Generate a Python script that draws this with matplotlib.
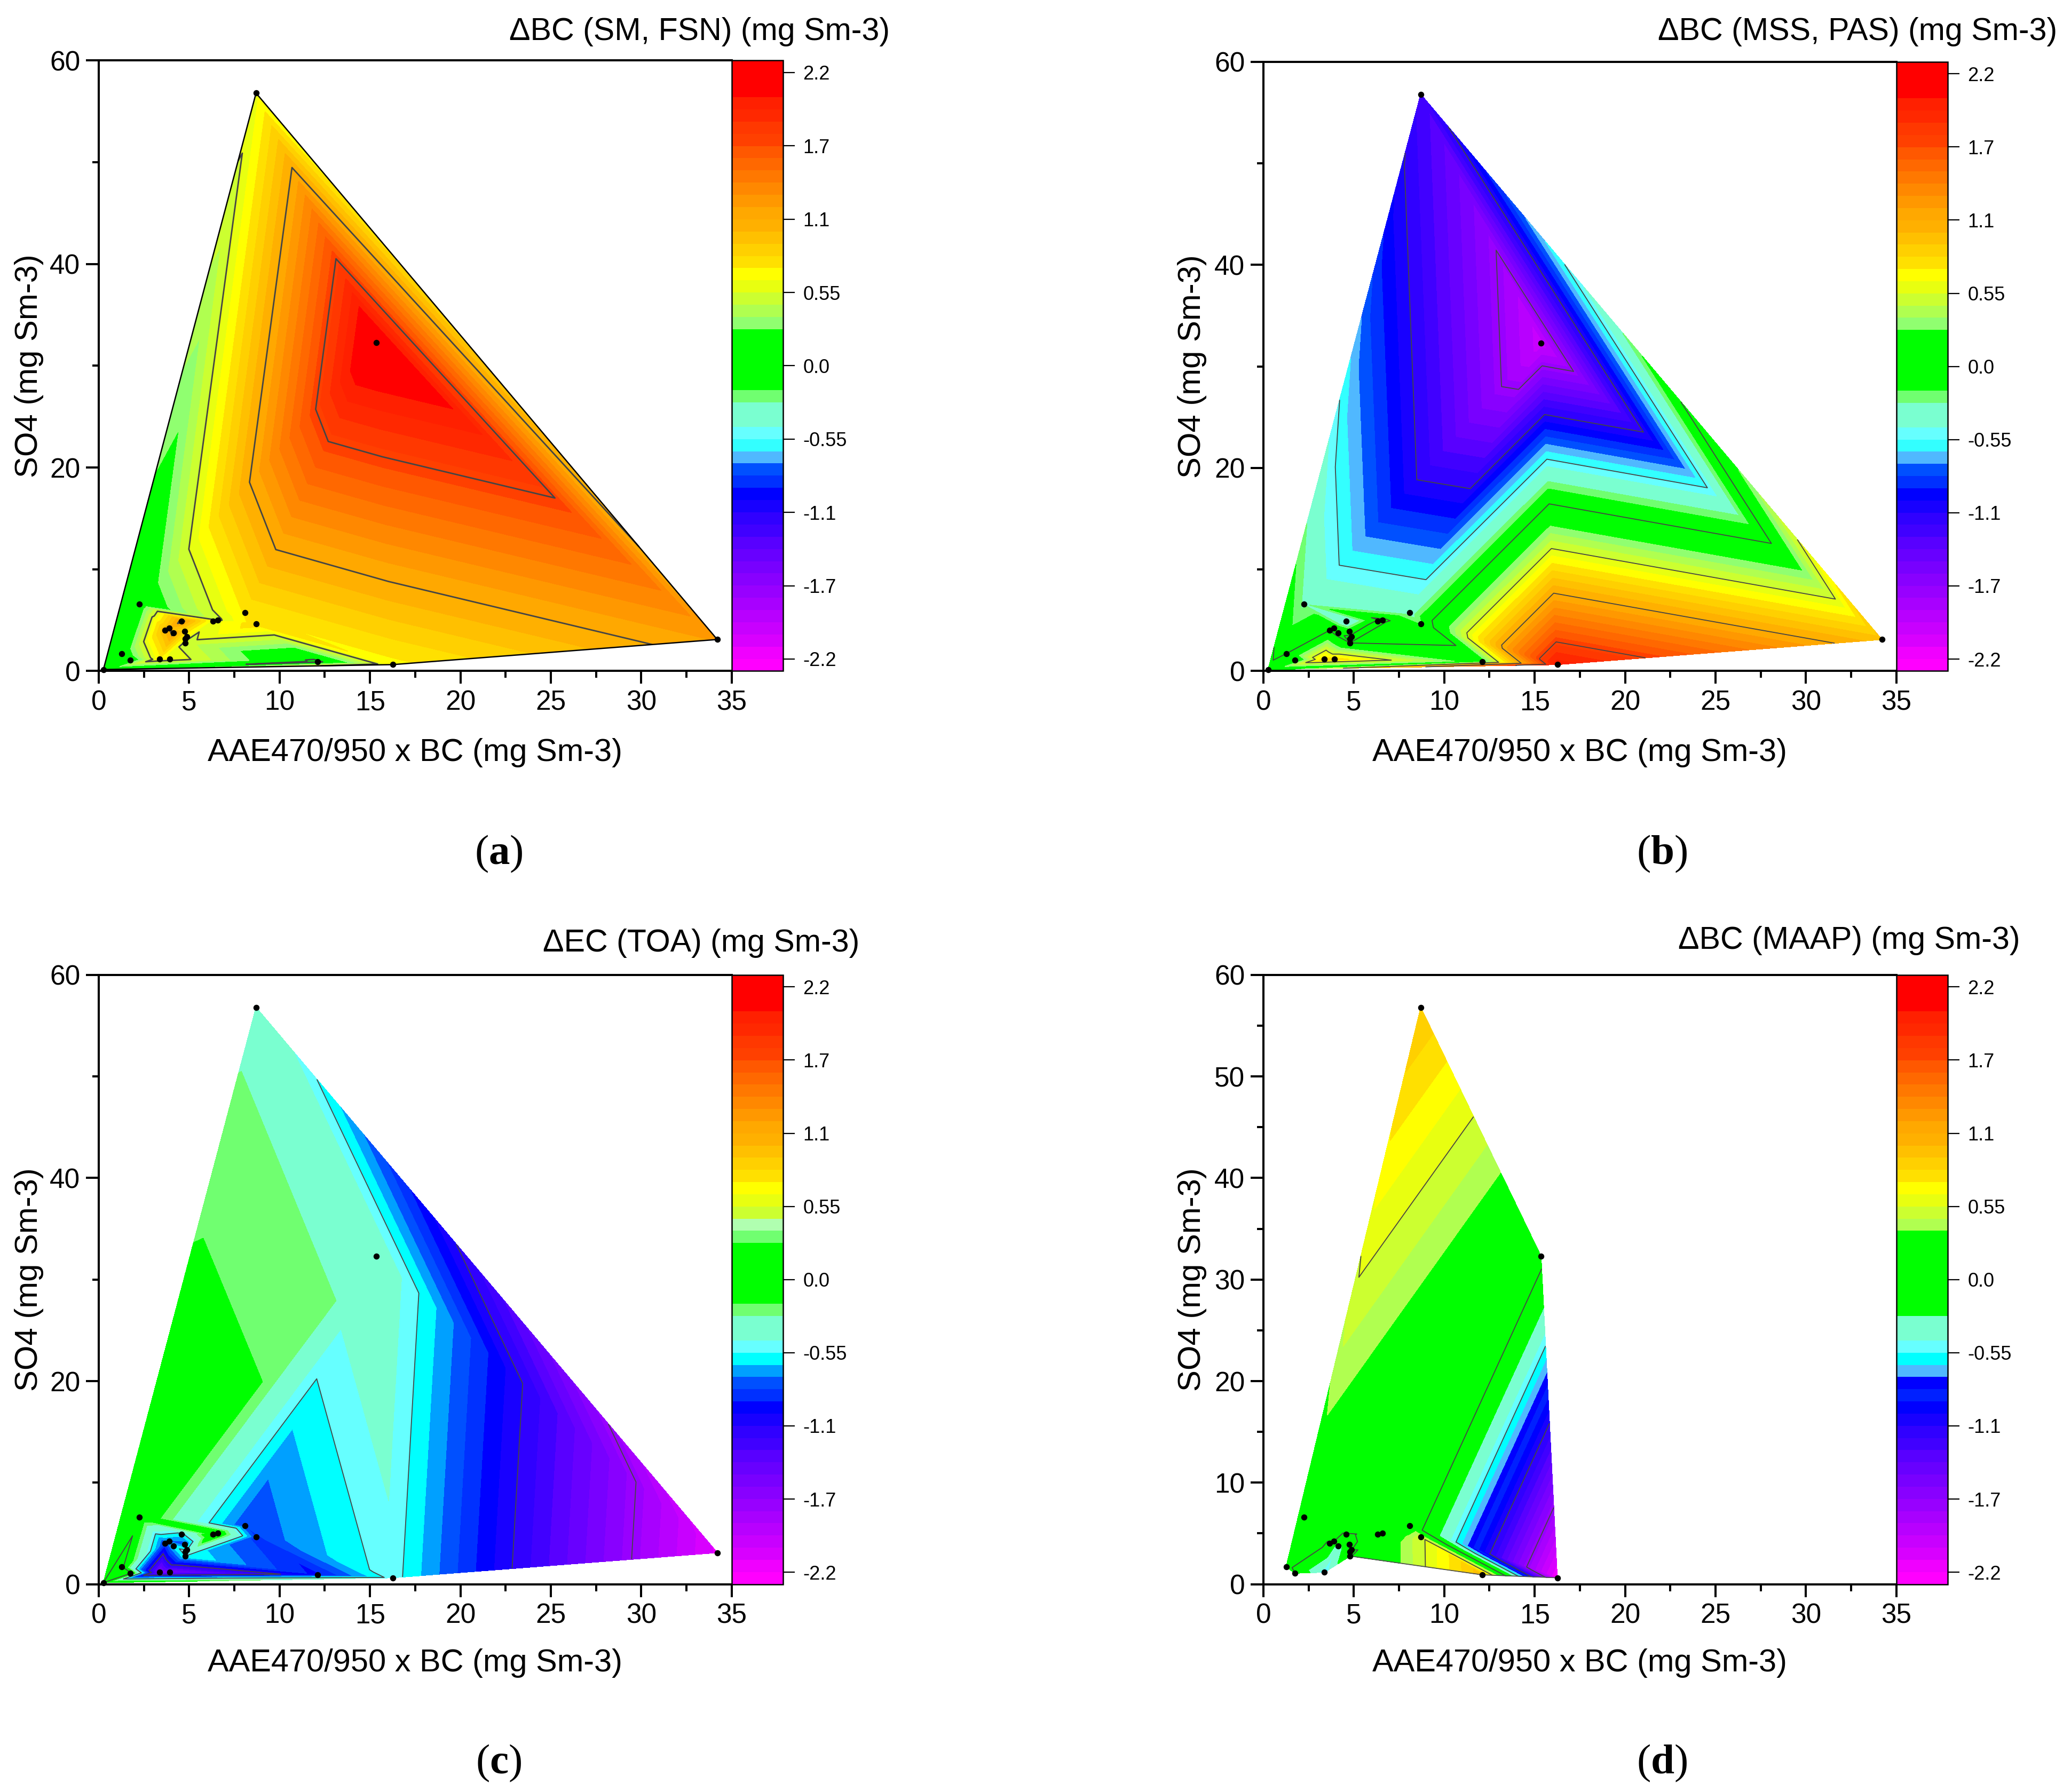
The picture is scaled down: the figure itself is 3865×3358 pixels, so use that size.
import numpy as np
import matplotlib
matplotlib.use("Agg")
import matplotlib.pyplot as plt
from matplotlib.colors import ListedColormap, BoundaryNorm
from matplotlib.cm import ScalarMappable
from matplotlib.tri import Triangulation

plt.rcParams['font.family'] = ['Liberation Sans', 'DejaVu Sans']
plt.rcParams['mathtext.fontset'] = 'custom'
plt.rcParams['mathtext.rm'] = 'Liberation Serif'
plt.rcParams['mathtext.bf'] = 'Liberation Serif:bold'
plt.rcParams['contour.negative_linestyle'] = 'solid'

# Measured points (shared by all panels)
aae_bc = [0.26, 1.26, 1.75, 2.24, 3.38, 3.93, 3.66, 3.91, 4.13, 4.59, 4.76, 4.88,
          4.79, 4.79, 6.32, 6.59, 8.10, 8.71, 12.1, 16.25, 34.2, 15.35, 8.70]
so4 = [0.15, 1.71, 1.08, 6.60, 1.17, 1.17, 4.01, 4.24, 3.77, 4.90, 3.91, 3.37,
       3.19, 2.77, 4.90, 5.03, 5.74, 4.64, 0.92, 0.63, 3.10, 32.3, 56.8]

delta_a = [0.10, 0.08, 0.08, 0.10, 0.70, 0.65, 1.00, 1.00, 1.15, 1.15, 0.80, 0.65,
           0.60, 0.50, 0.60, 0.52, 0.75, 0.80, -0.05, 0.70, 1.20, 2.25, 0.61]
delta_b = [0.05, 0.00, 0.00, -0.30, 0.80, 0.80, 0.00, -0.05, -0.10, -0.50, -0.10, 0.05,
           0.10, 0.00, 0.05, 0.05, -0.35, -0.20, 0.15, 1.98, 0.95, -1.98, -1.23]
delta_c = [0.00, 0.05, 0.05, -0.03, -1.55, -1.55, -0.85, -0.75, -0.60, -0.60, -0.80, -0.55,
           -0.50, -0.55, 0.05, 0.00, -0.82, -0.85, -0.95, -0.50, -2.13, -0.325, -0.31]
delta_d = [np.nan, 0.10, 0.00, 0.23, -0.55, np.nan, -0.02, 0.00, -0.40, -0.02, -0.02, 0.00,
           -0.02, -0.02, 0.05, 0.05, 0.20, 0.52, 0.98, -2.20, np.nan, 0.09, 0.91]

titles = ["\u0394BC (SM, FSN) (mg Sm-3)", "\u0394BC (MSS, PAS) (mg Sm-3)",
          "\u0394EC (TOA) (mg Sm-3)", "\u0394BC (MAAP) (mg Sm-3)"]
letters = ["a", "b", "c", "d"]
xlabel = "AAE470/950 x BC (mg Sm-3)"
ylabel = "SO4 (mg Sm-3)"
cbar_ticks = [-2.2, -1.65, -1.1, -0.55, 0.0, 0.55, 1.1, 1.65, 2.2]
cbar_labels = ["-2.2", "-1.7", "-1.1", "-0.55", "0.0", "0.55", "1.1", "1.7", "2.2"]
line_levels = [-1.7, -1.1, -0.55, 0.0, 0.55, 1.1, 1.7]
warm_top = (["#ff0000"] * 3 +
    ["#ff2000", "#ff2800", "#ff3800", "#ff4000", "#ff5800", "#ff6800", "#ff7800", "#ff8800",
     "#ff9800", "#ffa800", "#ffb000", "#ffc000", "#ffd000", "#ffe000", "#ffff00", "#e8ff10", "#ccff30"])
cold_tail = ["#1800ff", "#3000ff", "#4000ff", "#5800ff", "#6800ff", "#7800ff", "#8800ff", "#9800ff",
     "#a800ff", "#b800ff", "#c800ff", "#d800ff", "#f000ff", "#ff00ff"]
blues = ["#0050ff", "#0030ff", "#0000ff"]
green_mid = ["#00ff00"] * 5 + ["#70ff70", "#7affd0", "#7affd0", "#66ffff"]
colors_ab = warm_top + ["#b0ff50", "#90ff70"] + green_mid + ["#33ffff", "#50b8ff"] + blues + cold_tail
colors_c = warm_top + ["#b0ffb0", "#70ff70"] + green_mid + ["#00ffff", "#00a0ff"] + blues + cold_tail
colors_d = (warm_top + ["#b0ff50"] + ["#00ff00"] * 7 + ["#7affd0", "#7affd0", "#66ffff", "#00ffff", "#50b8ff"]
            + ["#0000ff", "#0020ff", "#0000ff"] + cold_tail)

W, H = 3866, 3358
S = 3866 / 1568
levels = np.linspace(-2.29, 2.29, 51)

fig = plt.figure(figsize=(W / 100, H / 100), dpi=100, facecolor='white')

def axpos(l, r, t, b):
    return [l * S / W, 1 - b * S / H, (r - l) * S / W, (b - t) * S / H]

def ftext(x, y, s, **kw):
    return fig.text(x * S / W, 1 - y * S / H, s, **kw)

panels = [
    dict(z=delta_a, pal=colors_ab, l=75, r=556, t=46, b=510, cb=595, title_r=676, title_y=24, lab_x=22, xl_y=572, let=(379, 649), major=20),
    dict(z=delta_b, pal=colors_ab, l=960, r=1441, t=47, b=510, cb=1480, title_r=1563, title_y=24, lab_x=906, xl_y=572, let=(1263, 649), major=20),
    dict(z=delta_c, pal=colors_c, l=75, r=556, t=741, b=1204, cb=595, title_r=653, title_y=717, lab_x=22, xl_y=1264, let=(379, 1340), major=20),
    dict(z=delta_d, pal=colors_d, l=960, r=1441, t=741, b=1204, cb=1480, title_r=1535, title_y=715, lab_x=906, xl_y=1264, let=(1263, 1340), major=10),
]

X = np.array(aae_bc)
Y = np.array(so4)
for i, p in enumerate(panels):
    cmap = ListedColormap(p['pal'][::-1])
    norm = BoundaryNorm(levels, cmap.N)
    Z = np.array(p['z'], dtype=float)
    ok = ~np.isnan(Z)
    x, y, z = X[ok], Y[ok], Z[ok]
    tri = Triangulation(x, y)
    if i == 3:
        # the lower edge of panel d is concave: drop the triangles outside it
        idx = np.where(ok)[0]
        low = {2, 4, 13, 18, 19}
        mask = []
        for t in tri.triangles:
            s = set(idx[t])
            mask.append(s <= low and (2 in s or 4 in s) and (18 in s or 19 in s))
        tri.set_mask(np.array(mask))
    ax = fig.add_axes(axpos(p['l'], p['r'], p['t'], p['b']))
    cs = ax.tricontourf(tri, z, levels=levels, cmap=cmap, norm=norm)
    cs.set_edgecolor('face')
    cs.set_linewidth(0.4)
    ax.tricontour(tri, z, levels=line_levels, colors='#454545',
                  linewidths=2.0 if i == 0 else 1.3)
    if i == 0:
        o = [0, 22, 20, 19, 0]
        ax.plot(X[o], Y[o], color='black', lw=1.8, zorder=3)
    if i == 3:
        o = [13, 18, 19]
        ax.plot(X[o], Y[o], color='#505050', lw=1.3, zorder=3)
    ax.scatter(x, y, s=68, color='black', zorder=5, clip_on=False, linewidths=0)
    ax.set_xlim(0, 35)
    ax.set_ylim(0, 60)
    ax.set_xticks(np.arange(0, 36, 5))
    ax.set_xticks(np.arange(2.5, 35, 5), minor=True)
    ax.set_yticks(np.arange(0, 61, p['major']))
    ax.set_yticks(np.arange(p['major'] / 2, 60, p['major']), minor=True)
    ax.tick_params(which='major', length=17, width=2.9, labelsize=37, pad=8)
    ax.tick_params(which='minor', length=9, width=2.9)
    for s in ax.spines.values():
        s.set_linewidth(2.9)
    ax.spines['right'].set_visible(False)

    cax = fig.add_axes(axpos(p['r'], p['cb'], p['t'], p['b']))
    cb = fig.colorbar(ScalarMappable(norm=norm, cmap=cmap), cax=cax, spacing='proportional',
                      drawedges=False)
    cb.set_ticks(cbar_ticks, labels=cbar_labels)
    cb.ax.tick_params(which='major', length=16, width=1.6, labelsize=26, pad=11, right=True)
    cb.ax.minorticks_off()
    cb.outline.set_linewidth(1.8)

    ftext(p['title_r'], p['title_y'], titles[i], ha='right', va='center', fontsize=42.6)
    ftext((p['l'] + p['r']) / 2, p['xl_y'], xlabel, ha='center', va='center', fontsize=42.8)
    ftext(p['lab_x'], (p['t'] + p['b']) / 2, ylabel, rotation=90, ha='center', va='center', fontsize=43)
    ftext(p['let'][0], p['let'][1], r"($\mathbf{%s}$)" % letters[i], ha='center', va='center',
          fontsize=57, family='Liberation Serif')

fig.savefig('out.png', dpi=100, facecolor='white')
